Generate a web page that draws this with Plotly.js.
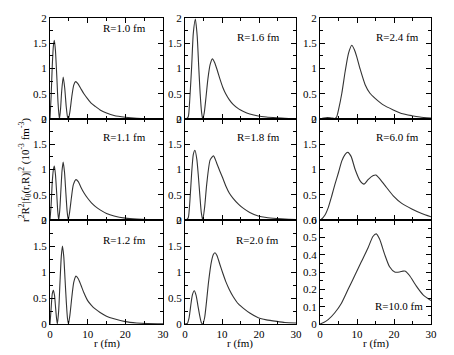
<!DOCTYPE html>
<html>
<head>
<meta charset="utf-8">
<script src="https://cdn.plot.ly/plotly-3.0.1.min.js"></script>
<style>
  html, body { margin: 0; padding: 0; background: #fff; }
  #chart { width: 454px; height: 355px; }
</style>
</head>
<body>
<div id="chart"></div>
<script>
// ---- Data ----
// R = 1.0 fm
var r_R10 = [0, 0.3, 0.6, 0.9, 1.15, 1.45, 1.8, 2.15, 2.5, 2.8, 3.1, 3.5, 3.9, 4.3, 4.65, 4.9, 5.3, 5.8, 6.3, 6.8, 7.4, 8.2, 9.0, 10, 11, 12, 13.3, 15, 17, 20, 23, 26, 30];
var f_R10 = [0, 0.45, 1.05, 1.45, 1.56, 1.35, 0.85, 0.3, 0, 0.2, 0.55, 0.83, 0.62, 0.25, 0.04, 0, 0.15, 0.45, 0.67, 0.74, 0.7, 0.6, 0.5, 0.4, 0.31, 0.25, 0.18, 0.12, 0.07, 0.035, 0.015, 0.007, 0.003];
// R = 1.1 fm
var r_R11 = [0, 0.3, 0.6, 0.9, 1.15, 1.45, 1.8, 2.05, 2.3, 2.6, 2.9, 3.2, 3.5, 3.85, 4.2, 4.55, 4.85, 5.2, 5.7, 6.2, 6.9, 7.5, 8.2, 9.0, 10, 11, 12, 13.3, 15, 17, 20, 23, 26, 30];
var f_R11 = [0, 0.3, 0.75, 1.0, 1.07, 0.9, 0.5, 0.18, 0, 0.2, 0.6, 0.98, 1.15, 0.95, 0.55, 0.17, 0, 0.15, 0.45, 0.7, 0.8, 0.76, 0.65, 0.54, 0.43, 0.34, 0.27, 0.2, 0.13, 0.08, 0.037, 0.017, 0.008, 0.003];
// R = 1.2 fm
var r_R12 = [0, 0.3, 0.6, 0.9, 1.2, 1.5, 1.75, 1.95, 2.3, 2.65, 3.0, 3.3, 3.65, 4.0, 4.35, 4.65, 4.9, 5.3, 5.8, 6.3, 6.9, 7.5, 8.2, 9.0, 10, 11, 12, 13.3, 15, 17, 20, 23, 26, 30];
var f_R12 = [0, 0.3, 0.58, 0.65, 0.55, 0.3, 0.1, 0, 0.25, 0.8, 1.3, 1.5, 1.3, 0.85, 0.4, 0.1, 0, 0.18, 0.52, 0.8, 0.92, 0.87, 0.75, 0.6, 0.45, 0.36, 0.29, 0.22, 0.15, 0.1, 0.045, 0.02, 0.009, 0.004];
// R = 1.6 fm
var r_R16 = [0, 0.5, 0.9, 1.3, 1.8, 2.25, 2.8, 3.3, 3.7, 4.1, 4.5, 4.8, 5.2, 5.7, 6.2, 6.8, 7.4, 8.0, 8.7, 9.5, 10.2, 11, 12, 13, 14.5, 15.8, 17.5, 19.8, 22, 24.8, 27, 30];
var f_R16 = [0, 0.01, 0.05, 0.4, 1.04, 1.7, 1.98, 1.64, 1.05, 0.5, 0.12, 0, 0.12, 0.45, 0.8, 1.08, 1.19, 1.12, 0.97, 0.78, 0.63, 0.5, 0.38, 0.29, 0.2, 0.15, 0.1, 0.06, 0.04, 0.025, 0.015, 0.008];
// R = 1.8 fm
var r_R18 = [0, 0.5, 0.9, 1.3, 1.8, 2.25, 2.7, 3.2, 3.6, 4.0, 4.4, 4.8, 5.3, 5.9, 6.8, 7.7, 8.6, 9.4, 10.2, 11, 12, 13, 14.5, 15.8, 17.5, 19.8, 22, 24.8, 27, 30];
var f_R18 = [0, 0.01, 0.05, 0.35, 0.93, 1.3, 1.38, 1.2, 0.88, 0.5, 0.15, 0, 0.25, 0.73, 1.19, 1.27, 1.12, 0.97, 0.83, 0.68, 0.53, 0.43, 0.31, 0.23, 0.15, 0.08, 0.05, 0.03, 0.018, 0.01];
// R = 2.0 fm
var r_R20 = [0, 0.6, 1.1, 1.6, 2.0, 2.5, 3.0, 3.5, 4.0, 4.4, 4.8, 5.3, 5.8, 6.3, 6.8, 7.2, 7.7, 8.1, 8.6, 9.5, 10.2, 11, 12, 13, 14.5, 15.8, 17.5, 19.8, 22, 24.8, 27, 30];
var f_R20 = [0, 0.01, 0.12, 0.38, 0.56, 0.64, 0.55, 0.35, 0.15, 0.03, 0, 0.12, 0.42, 0.77, 1.05, 1.22, 1.34, 1.37, 1.32, 1.13, 0.98, 0.82, 0.66, 0.53, 0.38, 0.3, 0.21, 0.12, 0.08, 0.05, 0.03, 0.02];
// R = 2.4 fm
var r_R24 = [0, 1, 2, 3, 4, 4.5, 5, 5.9, 6.8, 7.7, 8.6, 9.3, 9.9, 10.8, 12.2, 13.5, 14.9, 17.1, 19.8, 22, 24.8, 27, 30];
var f_R24 = [0, 0.02, 0.03, 0.02, 0.01, 0.04, 0.18, 0.51, 0.94, 1.3, 1.46, 1.37, 1.24, 1.0, 0.68, 0.51, 0.41, 0.28, 0.18, 0.11, 0.066, 0.04, 0.02];
// R = 6.0 fm
var r_R60 = [0, 0.3, 1.35, 2.25, 3.15, 4.05, 5.0, 5.9, 6.8, 7.5, 8.4, 9.5, 10.8, 11.9, 13.0, 14.4, 15.1, 16.2, 17.6, 19.8, 22.1, 24.8, 27.5, 30];
var f_R60 = [0, 0.01, 0.1, 0.25, 0.47, 0.71, 0.94, 1.17, 1.3, 1.34, 1.26, 1.0, 0.78, 0.71, 0.8, 0.88, 0.89, 0.81, 0.68, 0.48, 0.33, 0.22, 0.13, 0.065];
// R = 10.0 fm
var r_R100 = [0, 1.0, 2.2, 4.0, 5.8, 7.6, 9.4, 11.2, 13.0, 14.3, 15.2, 16.1, 17.5, 18.8, 20.2, 21.5, 22.4, 23.1, 24.2, 26.0, 27.8, 30];
var f_R100 = [0, 0.008, 0.025, 0.065, 0.12, 0.2, 0.28, 0.36, 0.44, 0.505, 0.52, 0.49, 0.4, 0.33, 0.3, 0.3, 0.305, 0.305, 0.28, 0.22, 0.17, 0.135];

var panelLabels = ["R=1.0 fm", "R=1.6 fm", "R=2.4 fm",
                   "R=1.1 fm", "R=1.8 fm", "R=6.0 fm",
                   "R=1.2 fm", "R=2.0 fm", "R=10.0 fm"];
var xTickVals = [0, 10, 20, 30];
var xTitle = "r (fm)";
var yTitle = "r<sup>2</sup>R<sup>2</sup>|f<sub>0</sub>(r,R)|<sup>2</sup> (10<sup>-3</sup> fm<sup>-3</sup>)";

// ---- Layout geometry ----
var W = 454, H = 355;
function px(x) { return x / W; }
function py(y) { return 1 - y / H; }
var colPx = [[50, 163], [185, 296], [320, 431]];
var rowPx = [[18, 119], [119, 220], [220, 324]];

var panels = [
  [r_R10, f_R10], [r_R16, f_R16], [r_R24, f_R24],
  [r_R11, f_R11], [r_R18, f_R18], [r_R60, f_R60],
  [r_R12, f_R12], [r_R20, f_R20], [r_R100, f_R100]
];
// label centre positions in page pixels
var labelPos = [[124, 28], [258, 37], [397, 37],
                [124, 137], [258, 137], [397, 137],
                [124, 240], [257, 240], [399, 306]];

var font = "Liberation Serif";
var traces = [];
var layout = {
  width: W, height: H,
  margin: {l: 0, r: 0, t: 0, b: 0},
  paper_bgcolor: "#fff", plot_bgcolor: "#fff",
  showlegend: false,
  font: {family: font, size: 11, color: "#000"},
  annotations: []
};

for (var i = 0; i < 9; i++) {
  var row = Math.floor(i / 3), col = i % 3;
  var n = i + 1;
  var xa = "xaxis" + (n === 1 ? "" : n), ya = "yaxis" + (n === 1 ? "" : n);
  var xr = "x" + (n === 1 ? "" : n), yr = "y" + (n === 1 ? "" : n);
  traces.push({
    x: panels[i][0], y: panels[i][1], xaxis: xr, yaxis: yr,
    type: "scatter", mode: "lines",
    line: {color: "#333", width: 1.1, shape: "spline", smoothing: 0.6},
    hoverinfo: "skip"
  });
  var small = (i === 8);
  layout[xa] = {
    domain: [px(colPx[col][0]), px(colPx[col][1])],
    anchor: yr, range: [0, 30],
    tickmode: "array", tickvals: xTickVals,
    ticks: "inside", ticklen: 5, tickwidth: 1, tickcolor: "#000",
    showline: true, linecolor: "#000", linewidth: 1, mirror: "ticks",
    showgrid: false, zeroline: false,
    showticklabels: row === 2,
    tickfont: {family: font, size: 11, color: "#000"},
    minor: {ticks: "inside", ticklen: 3, tickwidth: 1, tickcolor: "#000", dtick: 5, tick0: 0, showgrid: false},
    fixedrange: true
  };
  layout[ya] = {
    domain: [py(rowPx[row][1]), py(rowPx[row][0])],
    anchor: xr, range: small ? [0, 0.6] : [0, 2],
    dtick: small ? 0.1 : 0.5, tick0: 0,
    ticks: "inside", ticklen: 5, tickwidth: 1, tickcolor: "#000",
    showline: true, linecolor: "#000", linewidth: 1, mirror: "ticks",
    showgrid: false, zeroline: false,
    tickfont: {family: font, size: 11, color: "#000"},
    minor: {ticks: "inside", ticklen: 3, tickwidth: 1, tickcolor: "#000", dtick: small ? 0.05 : 0.25, tick0: 0, showgrid: false},
    fixedrange: true
  };
  layout.annotations.push({
    text: panelLabels[i], xref: "paper", yref: "paper",
    x: px(labelPos[i][0]), y: py(labelPos[i][1]),
    xanchor: "center", yanchor: "middle", showarrow: false,
    font: {family: font, size: 11, color: "#000"}
  });
}
// x-axis titles under each bottom column
for (var c = 0; c < 3; c++) {
  layout.annotations.push({
    text: xTitle, xref: "paper", yref: "paper",
    x: px((colPx[c][0] + colPx[c][1]) / 2), y: py(343),
    xanchor: "center", yanchor: "middle", showarrow: false,
    font: {family: font, size: 11, color: "#000"}
  });
}
// shared y title
layout.annotations.push({
  text: yTitle, xref: "paper", yref: "paper",
  x: px(25), y: py(170), textangle: -90,
  xanchor: "center", yanchor: "middle", showarrow: false,
  font: {family: font, size: 11, color: "#000"}
});

Plotly.newPlot("chart", traces, layout, {staticPlot: true, displayModeBar: false});
</script>
</body>
</html>
